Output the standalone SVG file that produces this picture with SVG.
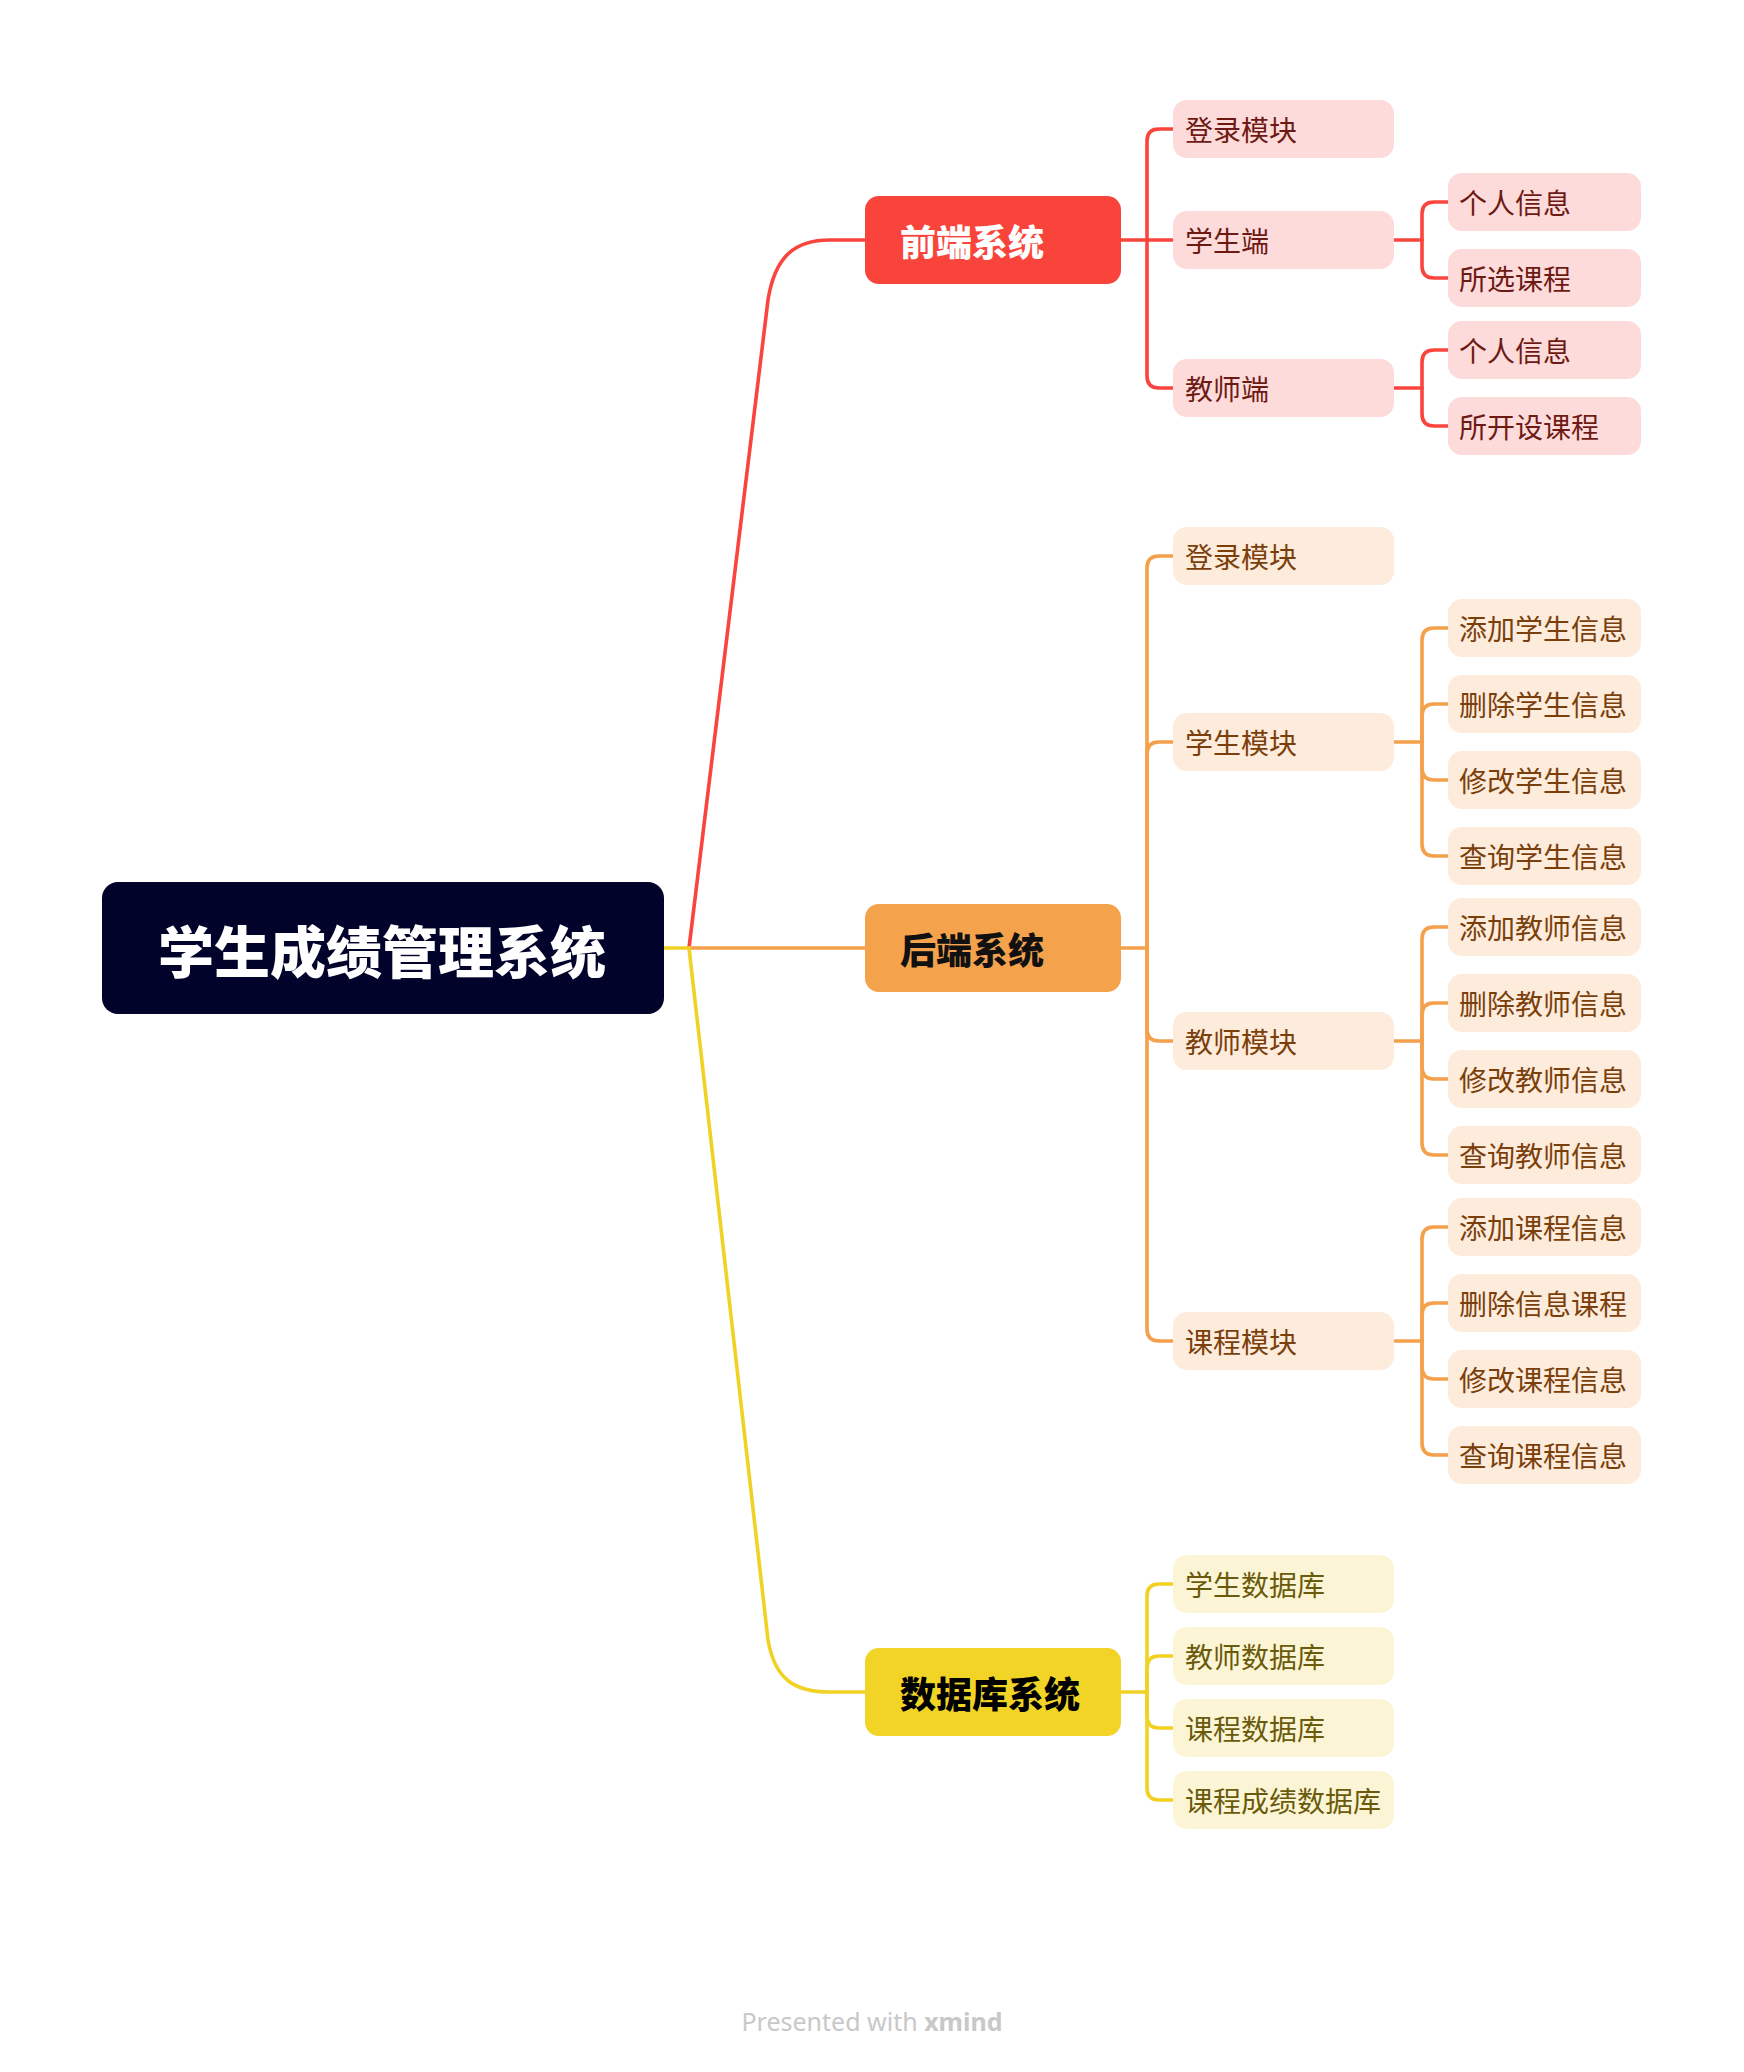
<svg xmlns="http://www.w3.org/2000/svg" width="1744" height="2072" viewBox="0 0 1744 2072">
<style>
text{font-family:"Noto Sans CJK SC","Noto Sans",sans-serif;dominant-baseline:central}
.root text{font-size:56px;font-weight:900;fill:#fff}
.main text{font-size:36px;font-weight:900}
.sub text{font-size:28px}
.c path{fill:none;stroke-width:3.6;stroke-linecap:round}
.r path{stroke:#F9453D}.o path{stroke:#F5A04A}.y path{stroke:#F0D224}
.fr rect{fill:#FDDBDA}.fr text{fill:#6E1A14}
.bk rect{fill:#FDEBDC}.bk text{fill:#7B3F0B}
.db rect{fill:#FCF5D5}.db text{fill:#6A5A0B}
</style>
<rect width="1744" height="2072" fill="#fff"/>
<g id="connectors" class="c">
<g class="r">
<path d="M689 948 L768 300 C775 256 795 240 830 240 H865"/>
<path d="M1121 240 H1147"/>
<path d="M1147 240 V141 Q1147 129 1159 129 H1173"/>
<path d="M1147 240 H1173"/>
<path d="M1147 240 V376 Q1147 388 1159 388 H1173"/>
<path d="M1394 240 H1422"/>
<path d="M1422 240 V214 Q1422 202 1434 202 H1448"/>
<path d="M1422 240 V266 Q1422 278 1434 278 H1448"/>
<path d="M1394 388 H1422"/>
<path d="M1422 388 V362 Q1422 350 1434 350 H1448"/>
<path d="M1422 388 V414 Q1422 426 1434 426 H1448"/>
</g>
<g class="o">
<path d="M689 948 H865"/>
<path d="M1121 948 H1147"/>
<path d="M1147 948 V568 Q1147 556 1159 556 H1173"/>
<path d="M1147 948 V754 Q1147 742 1159 742 H1173"/>
<path d="M1147 948 V1029 Q1147 1041 1159 1041 H1173"/>
<path d="M1147 948 V1329 Q1147 1341 1159 1341 H1173"/>
<path d="M1394 742 H1422"/>
<path d="M1422 742 V640 Q1422 628 1434 628 H1448"/>
<path d="M1422 742 V716 Q1422 704 1434 704 H1448"/>
<path d="M1422 742 V768 Q1422 780 1434 780 H1448"/>
<path d="M1422 742 V844 Q1422 856 1434 856 H1448"/>
<path d="M1394 1041 H1422"/>
<path d="M1422 1041 V939 Q1422 927 1434 927 H1448"/>
<path d="M1422 1041 V1015 Q1422 1003 1434 1003 H1448"/>
<path d="M1422 1041 V1067 Q1422 1079 1434 1079 H1448"/>
<path d="M1422 1041 V1143 Q1422 1155 1434 1155 H1448"/>
<path d="M1394 1341 H1422"/>
<path d="M1422 1341 V1239 Q1422 1227 1434 1227 H1448"/>
<path d="M1422 1341 V1315 Q1422 1303 1434 1303 H1448"/>
<path d="M1422 1341 V1367 Q1422 1379 1434 1379 H1448"/>
<path d="M1422 1341 V1443 Q1422 1455 1434 1455 H1448"/>
</g>
<g class="y">
<path d="M664 948 H689 L768 1640 C775 1680 795 1692 830 1692 H865"/>
<path d="M1121 1692 H1147"/>
<path d="M1147 1692 V1596 Q1147 1584 1159 1584 H1173"/>
<path d="M1147 1692 V1668 Q1147 1656 1159 1656 H1173"/>
<path d="M1147 1692 V1716 Q1147 1728 1159 1728 H1173"/>
<path d="M1147 1692 V1788 Q1147 1800 1159 1800 H1173"/>
</g>
</g>
<g id="root" class="root"><rect x="102" y="882" width="562" height="132" rx="16" fill="#02032B"/><text x="158" y="948">学生成绩管理系统</text></g>
<g id="frontend" class="main"><rect x="865" y="196" width="256" height="88" rx="14" fill="#F9443C"/><text x="900" y="240" fill="#fff">前端系统</text></g>
<g id="backend" class="main"><rect x="865" y="904" width="256" height="88" rx="14" fill="#F5A24D"/><text x="900" y="948" fill="#111">后端系统</text></g>
<g id="database" class="main"><rect x="865" y="1648" width="256" height="88" rx="14" fill="#F1D426"/><text x="900" y="1692" fill="#000">数据库系统</text></g>
<g class="sub fr">
<g id="f-login"><rect x="1173" y="100" width="221" height="58" rx="14"/><text x="1185" y="129">登录模块</text></g>
<g id="f-student"><rect x="1173" y="211" width="221" height="58" rx="14"/><text x="1185" y="240">学生端</text></g>
<g id="f-teacher"><rect x="1173" y="359" width="221" height="58" rx="14"/><text x="1185" y="388">教师端</text></g>
<g id="f-s-info"><rect x="1448" y="173" width="193" height="58" rx="14"/><text x="1459" y="202">个人信息</text></g>
<g id="f-s-course"><rect x="1448" y="249" width="193" height="58" rx="14"/><text x="1459" y="278">所选课程</text></g>
<g id="f-t-info"><rect x="1448" y="321" width="193" height="58" rx="14"/><text x="1459" y="350">个人信息</text></g>
<g id="f-t-course"><rect x="1448" y="397" width="193" height="58" rx="14"/><text x="1459" y="426">所开设课程</text></g>
</g>
<g class="sub bk">
<g id="b-login"><rect x="1173" y="527" width="221" height="58" rx="14"/><text x="1185" y="556">登录模块</text></g>
<g id="b-student"><rect x="1173" y="713" width="221" height="58" rx="14"/><text x="1185" y="742">学生模块</text></g>
<g id="b-teacher"><rect x="1173" y="1012" width="221" height="58" rx="14"/><text x="1185" y="1041">教师模块</text></g>
<g id="b-course"><rect x="1173" y="1312" width="221" height="58" rx="14"/><text x="1185" y="1341">课程模块</text></g>
<g id="b-s1"><rect x="1448" y="599" width="193" height="58" rx="14"/><text x="1459" y="628">添加学生信息</text></g>
<g id="b-s2"><rect x="1448" y="675" width="193" height="58" rx="14"/><text x="1459" y="704">删除学生信息</text></g>
<g id="b-s3"><rect x="1448" y="751" width="193" height="58" rx="14"/><text x="1459" y="780">修改学生信息</text></g>
<g id="b-s4"><rect x="1448" y="827" width="193" height="58" rx="14"/><text x="1459" y="856">查询学生信息</text></g>
<g id="b-t1"><rect x="1448" y="898" width="193" height="58" rx="14"/><text x="1459" y="927">添加教师信息</text></g>
<g id="b-t2"><rect x="1448" y="974" width="193" height="58" rx="14"/><text x="1459" y="1003">删除教师信息</text></g>
<g id="b-t3"><rect x="1448" y="1050" width="193" height="58" rx="14"/><text x="1459" y="1079">修改教师信息</text></g>
<g id="b-t4"><rect x="1448" y="1126" width="193" height="58" rx="14"/><text x="1459" y="1155">查询教师信息</text></g>
<g id="b-c1"><rect x="1448" y="1198" width="193" height="58" rx="14"/><text x="1459" y="1227">添加课程信息</text></g>
<g id="b-c2"><rect x="1448" y="1274" width="193" height="58" rx="14"/><text x="1459" y="1303">删除信息课程</text></g>
<g id="b-c3"><rect x="1448" y="1350" width="193" height="58" rx="14"/><text x="1459" y="1379">修改课程信息</text></g>
<g id="b-c4"><rect x="1448" y="1426" width="193" height="58" rx="14"/><text x="1459" y="1455">查询课程信息</text></g>
</g>
<g class="sub db">
<g id="d-1"><rect x="1173" y="1555" width="221" height="58" rx="14"/><text x="1185" y="1584">学生数据库</text></g>
<g id="d-2"><rect x="1173" y="1627" width="221" height="58" rx="14"/><text x="1185" y="1656">教师数据库</text></g>
<g id="d-3"><rect x="1173" y="1699" width="221" height="58" rx="14"/><text x="1185" y="1728">课程数据库</text></g>
<g id="d-4"><rect x="1173" y="1771" width="221" height="58" rx="14"/><text x="1185" y="1800">课程成绩数据库</text></g>
</g>
<text x="872" y="2021" text-anchor="middle" style="font-family:'Noto Sans',sans-serif;font-size:25px" fill="#C8C8C8">Presented with <tspan font-weight="bold">xmind</tspan></text>
</svg>
